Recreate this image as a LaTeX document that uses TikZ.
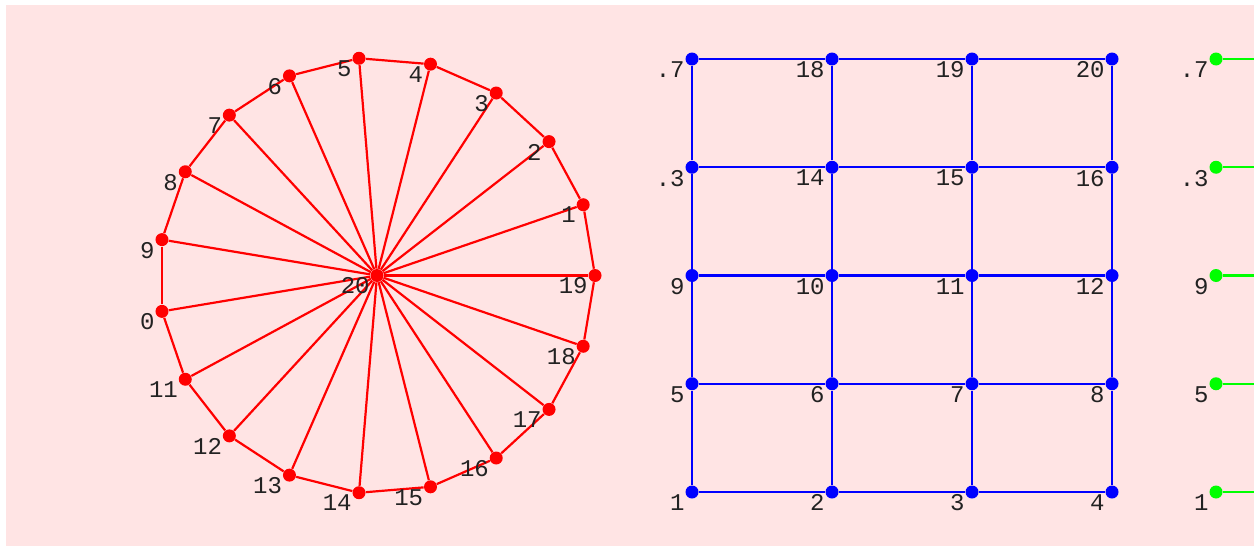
\documentclass[tikz,border=0pt]{standalone}
\usepackage{fontspec}
\setmonofont{Liberation Mono}
\definecolor{bgpink}{RGB}{255,228,228}
\definecolor{txtgray}{RGB}{34,34,34}

\begin{document}
\begin{tikzpicture}[x=0.5pt, y=-0.5pt,
  dot/.style={circle, inner sep=0pt, minimum size=6.5pt},
  lbl/.style={anchor=north east, inner sep=0pt, text=txtgray,
    font=\ttfamily\fontsize{12}{14}\selectfont},
  edge/.style={line width=1.1pt}]

  % Background
  \useasboundingbox (0,0) rectangle (1254,546);
  \fill[bgpink] (6,5) rectangle (1254,546);

  % Wheel: hub 20 and rim nodes
  \node[dot, fill=red] (w20) at (377,275.5) {};
  \foreach \lab [count=\p from 0] in {19,1,2,3,4,5,6,7,8,9,0,11,12,13,14,15,16,17,18}
    \node[dot, fill=red] (w\lab) at ({377+218*cos(\p*360/19)},{275.5-218*sin(\p*360/19)}) {};

  % Wheel rim
  \foreach \a/\b in {19/1,1/2,2/3,3/4,4/5,5/6,6/7,7/8,8/9,9/0,0/11,11/12,12/13,13/14,14/15,15/16,16/17,17/18,18/19}
    \draw[edge, red] (w\a) -- (w\b);
  % Wheel spokes
  \foreach \lab in {19,1,2,3,4,5,6,7,8,9,0,11,12,13,14,15,16,17,18}
    \draw[edge, red] (w20) -- (w\lab);

  % Wheel labels
  \foreach \lab in {20,19,1,2,3,4,5,6,7,8,9,0,11,12,13,14,15,16,17,18}
    \node[lbl] (wl\lab) at ([xshift=-3.5pt, yshift=-1pt]w\lab.center) {\lab};

  % Grid nodes
  \foreach \r in {0,...,4}
    \foreach \c in {0,...,3} {
      \pgfmathtruncatemacro\n{4*\r+\c+1}
      \node[dot, fill=blue] (g\n) at ({692+140*\c},{492-108.25*\r}) {};
    }

  % Grid edges
  \foreach \r in {0,...,4}
    \foreach \c in {0,1,2} {
      \pgfmathtruncatemacro\n{4*\r+\c+1}
      \pgfmathtruncatemacro\m{\n+1}
      \draw[edge, blue] (g\n) -- (g\m);
    }
  \foreach \r in {0,...,3}
    \foreach \c in {0,...,3} {
      \pgfmathtruncatemacro\n{4*\r+\c+1}
      \pgfmathtruncatemacro\m{\n+4}
      \draw[edge, blue] (g\n) -- (g\m);
    }

  % Grid labels
  \foreach \n in {1,...,20}
    \node[lbl] (gl\n) at ([xshift=-3.5pt, yshift=-1.25pt]g\n.center)
      {\ifnum\n=13 .3\else\ifnum\n=17 .7\else\n\fi\fi};

  % Green column, running off the right edge
  \foreach \n/\t/\y in {1/1/492,5/5/383.75,9/9/275.5,13/.3/167.25,17/.7/59} {
    \node[dot, fill=green] (h\n) at (1216,\y) {};
    \coordinate (hr\n) at (1254,\y);
    \draw[edge, green] (h\n) -- (hr\n);
    \node[lbl] (hl\n) at ([xshift=-3.5pt, yshift=-1.25pt]h\n.center) {\t};
  }
\end{tikzpicture}
\end{document}
